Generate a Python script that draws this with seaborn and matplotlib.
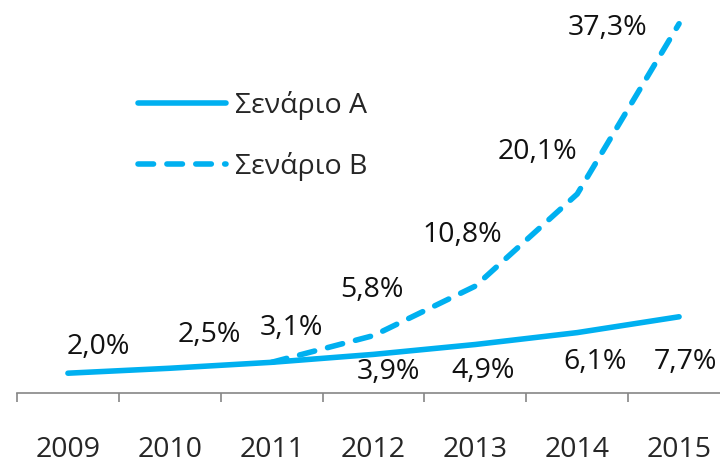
import numpy as np
import matplotlib
matplotlib.use('Agg')
import matplotlib.pyplot as plt
import pandas as pd
import seaborn as sns

years = [2009, 2010, 2011, 2012, 2013, 2014, 2015]
scen_a = [2.0, 2.5, 3.1, 3.9, 4.9, 6.1, 7.7]
scen_b = [np.nan, np.nan, 3.1, 5.8, 10.8, 20.1, 37.3]
names = ['Σενάριο A', 'Σενάριο B']

# label offsets in pixels (dx, dy), None = no label
off_a = [(30, 26), (40, 33), (20, 34), (15, -18), (8, -27), (18, -29), (6, -45)]
off_b = [None, None, None, (-2, 46), (-13, 51), (-40, 42), (-72, -4)]

sns.set_style('white')
plt.rcParams['font.family'] = ['Open Sans', 'DejaVu Sans']
plt.rcParams['lines.solid_capstyle'] = 'round'
plt.rcParams['lines.dash_capstyle'] = 'round'

df = pd.DataFrame({'year': years * 2,
                   'value': scen_a + scen_b,
                   'scen': [names[0]] * 7 + [names[1]] * 7}).dropna()

fig = plt.figure(figsize=(7.2, 4.63), dpi=100)
ax = fig.add_axes([17 / 720, 70 / 463, 713 / 720, 396 / 463])

blue = '#00B0F0'
sns.lineplot(data=df, x='year', y='value', hue='scen', style='scen',
             palette=[blue, blue], dashes={names[0]: '', names[1]: (2.8, 2.4)},
             linewidth=4, ax=ax, clip_on=False)

fs = 20.5
for vals, offs in [(scen_a, off_a), (scen_b, off_b)]:
    for x, v, o in zip(years, vals, offs):
        if o is None or np.isnan(v):
            continue
        ax.annotate(f'{v:.1f}%'.replace('.', ','), xy=(x, v), xytext=o,
                    textcoords='offset pixels', ha='center', va='center',
                    fontsize=fs, color='#111111', annotation_clip=False)

ax.set_xlim(2008.5, 2015.5)
ax.set_ylim(0, 40)
ax.set_xticks(years)
ax.set_xticklabels([str(y) for y in years], fontsize=fs)
ax.set_xticks([y - 0.5 for y in years], minor=True)
ax.tick_params(axis='x', which='major', length=0, pad=31)
ax.tick_params(axis='x', which='minor', length=6.5, width=1.2, color='#868686',
               direction='out', bottom=True)
ax.set_yticks([])
ax.set_xlabel('')
ax.set_ylabel('')
for s in ['top', 'right', 'left']:
    ax.spines[s].set_visible(False)
ax.spines['bottom'].set_color('#868686')
ax.spines['bottom'].set_linewidth(1.2)

h, l = ax.get_legend_handles_labels()
ax.legend(h, l, loc='upper left', bbox_to_anchor=(138 / 720, 1 - 91 / 463),
          bbox_transform=fig.transFigure, frameon=False, fontsize=fs,
          handlelength=3.1, handletextpad=0.3, labelspacing=1.14,
          borderpad=0, borderaxespad=0)

fig.savefig('out.png', dpi=100)
